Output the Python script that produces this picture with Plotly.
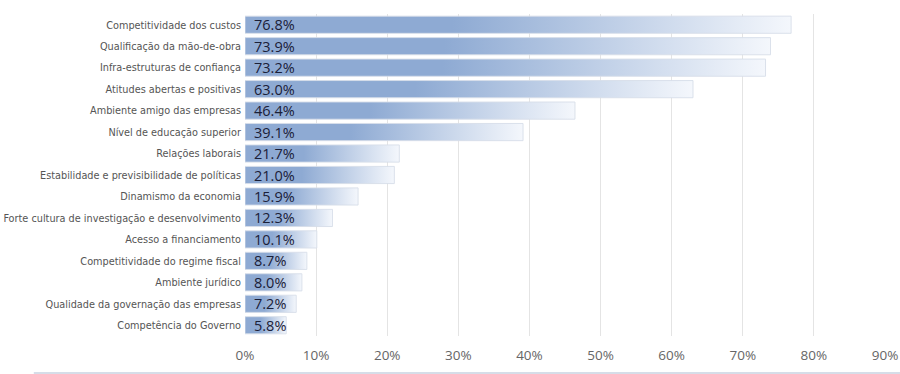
import plotly.graph_objects as go

categories = [
    "Competitividade dos custos",
    "Qualificação da mão-de-obra",
    "Infra-estruturas de confiança",
    "Atitudes abertas e positivas",
    "Ambiente amigo das empresas",
    "Nível de educação superior",
    "Relações laborais",
    "Estabilidade e previsibilidade de políticas",
    "Dinamismo da economia",
    "Forte cultura de investigação e desenvolvimento",
    "Acesso a financiamento",
    "Competitividade do regime fiscal",
    "Ambiente jurídico",
    "Qualidade da governação das empresas",
    "Competência do Governo",
]
values = [76.8, 73.9, 73.2, 63.0, 46.4, 39.1, 21.7, 21.0, 15.9, 12.3, 10.1, 8.7, 8.0, 7.2, 5.8]
tick_values = [0, 10, 20, 30, 40, 50, 60, 70, 80, 90]
tick_labels = [f"{t}%" for t in tick_values]

DARK = "#8eaad3"
LIGHT = "#f4f7fc"
HALF = 0.4

fig = go.Figure()
for i, (cat, v) in enumerate(zip(categories, values)):
    fig.add_trace(go.Scatter(
        x=[0, v, v, 0, 0],
        y=[i - HALF, i - HALF, i + HALF, i + HALF, i - HALF],
        mode="lines",
        line=dict(color="rgba(215,222,233,0.9)", width=1),
        fill="toself",
        fillgradient=dict(
            type="horizontal",
            colorscale=[[0, DARK], [0.38, DARK], [1, LIGHT]],
        ),
        hoverinfo="skip",
        showlegend=False,
    ))

for i, v in enumerate(values):
    fig.add_annotation(
        x=0, y=i, xref="x", yref="y",
        text=f"{v:.1f}%", showarrow=False,
        xanchor="left", yanchor="middle", xshift=7,
        font=dict(family="Open Sans, Lato, sans-serif", size=14.5, color="#1b2038"),
    )

fig.add_shape(type="line", xref="paper", yref="paper",
              x0=-0.33, x1=1.03, y0=-0.115, y1=-0.115,
              line=dict(color="#d6dde8", width=2))

fig.update_layout(
    width=900, height=374,
    margin=dict(l=245, r=15, t=14, b=38),
    paper_bgcolor="white", plot_bgcolor="white",
    xaxis=dict(
        range=[0, 90], tickvals=tick_values, ticktext=tick_labels,
        showgrid=True, gridcolor="#e4e4e4", gridwidth=1,
        zeroline=False, showline=False, ticks="",
        ticklabelstandoff=9,
        tickfont=dict(family="Open Sans, sans-serif", size=13.5, color="#666666"),
        automargin=False,
        fixedrange=True,
    ),
    yaxis=dict(
        range=[len(categories) - 0.5, -0.5],
        tickvals=list(range(len(categories))), ticktext=categories,
        showgrid=False, zeroline=False, showline=False, ticks="",
        ticklabelstandoff=3,
        automargin=False,
        tickfont=dict(family="Liberation Sans Narrow, DejaVu Sans Condensed, Roboto, sans-serif",
                      size=10.8, color="#555555"),
        fixedrange=True,
    ),
)

fig.write_html(
    "out.html",
    config={"displayModeBar": False},
    post_script="document.body.style.margin='0';document.body.style.overflow='hidden';",
)
